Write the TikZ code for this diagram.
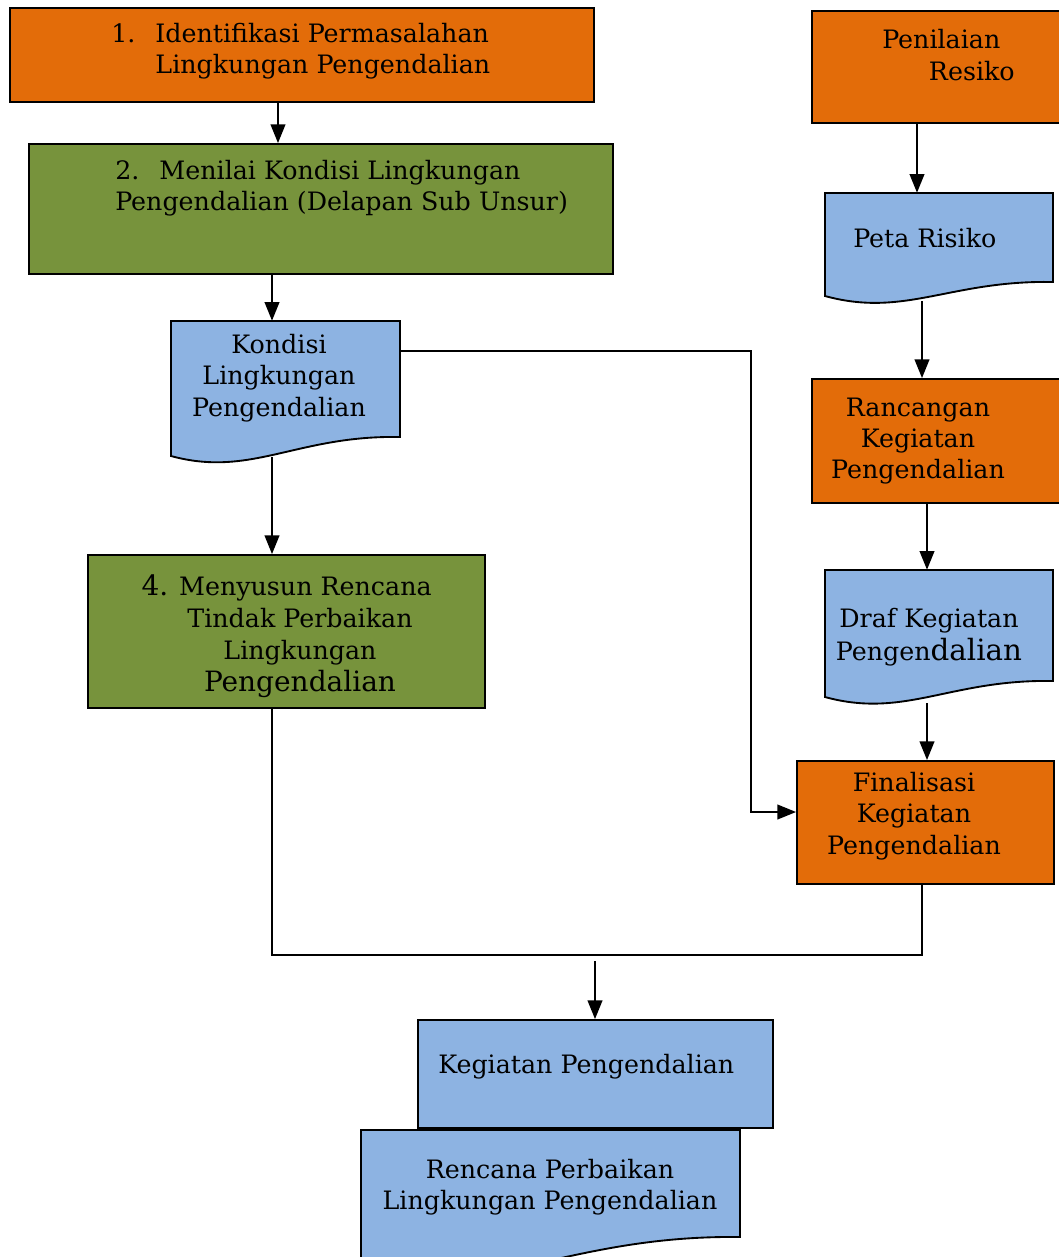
\documentclass[tikz,border=0pt]{standalone}
\usepackage{fontspec}
\setmainfont{DejaVu Serif}
\usetikzlibrary{arrows.meta,fit}

\definecolor{flowOrange}{HTML}{E36C09}
\definecolor{flowGreen}{HTML}{77933C}
\definecolor{flowBlue}{HTML}{8DB3E2}

\tikzset{
  box/.style={rectangle, draw=black, line width=1.4pt, inner sep=0pt},
  procO/.style={box, fill=flowOrange},
  procG/.style={box, fill=flowGreen},
  procB/.style={box, fill=flowBlue},
  docbox/.style={rectangle, inner sep=0pt},
  txt/.style={inner sep=0pt, align=center, font=\fontsize{19}{23.5}\selectfont},
  flow/.style={line width=1.4pt, -{Triangle[length=14pt,width=11pt]}},
  link/.style={line width=1.4pt},
}

% document symbol: left, top, right, right-bottom, left-bottom (wavy lower edge)
\newcommand\flowdoc[5]{%
  \filldraw[fill=flowBlue, draw=black, line width=1.4pt]
    (#1,#2) -- (#3,#2) -- (#3,#4)
    .. controls ({#3-0.45*(#3-#1)},{#4-2}) and ({#1+0.35*(#3-#1)},{#5+22}) .. (#1,#5) -- cycle;}

\begin{document}
\begin{tikzpicture}[x=0.75pt,y=-0.75pt]
\fill[white] (0,0) rectangle (1058,1257);
\useasboundingbox (0,0) rectangle (1058,1257);

% ---------- left column ----------
\node[procO, fit={(10,8)(594,102)}] (b1) {};
\node[procG, fit={(29,144)(613,274)}] (b2) {};
\flowdoc{171}{321}{400}{437}{456}
\node[docbox, fit={(171,321)(400,457)}] (d1) {};
\node[procG, fit={(88,555)(485,708)}] (b4) {};

% ---------- right column ----------
\node[procO, fit={(812,11)(1064,123)}] (pen) {};
\flowdoc{825}{193}{1053}{282}{296}
\node[docbox, fit={(825,193)(1053,301)}] (peta) {};
\node[procO, fit={(812,379)(1064,503)}] (ranc) {};
\flowdoc{825}{570}{1053}{681}{697}
\node[docbox, fit={(825,570)(1053,703)}] (draf) {};
\node[procO, fit={(797,761)(1054,884)}] (fin) {};

% ---------- outputs ----------
\node[procB, fit={(418,1020)(773,1128)}] (keg) {};
\flowdoc{361}{1130}{740}{1237}{1275}
\node[docbox, fit={(361,1130)(740,1257)}] (renc) {};

% ---------- connector guides ----------
\coordinate (xA) at (278,0);
\coordinate (xB) at (272,0);
\coordinate (xC) at (751,0);
\coordinate (xD) at (917,0);
\coordinate (xE) at (922,0);
\coordinate (xF) at (927,0);
\coordinate (xG) at (595,0);
\coordinate (yA) at (0,351);
\coordinate (yB) at (0,812);
\coordinate (yM) at (0,955);
\coordinate (mergeTop) at (595,961);

% ---------- connectors ----------
\draw[flow] (b1.south -| xA) -- (b2.north -| xA);
\draw[flow] (b2.south -| xB) -- (d1.north -| xB);
\draw[flow] (d1.south -| xB) -- (b4.north -| xB);
\draw[flow] (d1.east |- yA) -| (xC |- yB) -- (fin.west |- yB);
\draw[flow] (pen.south -| xD) -- (peta.north -| xD);
\draw[flow] (peta.south -| xE) -- (ranc.north -| xE);
\draw[flow] (ranc.south -| xF) -- (draf.north -| xF);
\draw[flow] (draf.south -| xF) -- (fin.north -| xF);
\draw[link] (b4.south -| xB) -- (xB |- yM) -| (fin.south -| xE);
\draw[flow] (mergeTop) -- (keg.north -| xG);

% ---------- labels ----------
\node[txt, align=left, anchor=west] (t1) at (111,51)
  {1.\hspace{15pt}Identifikasi Permasalahan\\\phantom{1.}\hspace{15pt}Lingkungan Pengendalian};
\node[txt, align=left, anchor=west] (t2) at (115,188)
  {2.\hspace{15pt}Menilai Kondisi Lingkungan\\Pengendalian (Delapan Sub Unsur)};
\node[txt] (t3) at (279,378) {Kondisi\\Lingkungan\\Pengendalian};
\node[txt, font=\fontsize{19}{24}\selectfont] (t4) at (300,636)
  {{\fontsize{21}{24}\selectfont 4.} Menyusun Rencana\hspace*{20pt}\\Tindak Perbaikan\\Lingkungan\\{\fontsize{21}{24}\selectfont Pengendalian}};
\node[txt, align=left, anchor=west] (t5) at (882,55) {Penilaian\\\hspace{35pt}Resiko};
\node[txt, anchor=west] (t6) at (853,238) {Peta Risiko};
\node[txt] (t7) at (918,441) {Rancangan\\Kegiatan\\Pengendalian};
\node[txt, font=\fontsize{19}{25}\selectfont] (t8) at (929,637)
  {Draf Kegiatan\\Pengen{\fontsize{22}{25}\selectfont dalian}};
\node[txt] (t9) at (914,816) {Finalisasi\\Kegiatan\\Pengendalian};
\node[txt, anchor=west] (t10) at (438,1067) {Kegiatan Pengendalian};
\node[txt] (t11) at (550,1187) {Rencana Perbaikan\\Lingkungan Pengendalian};
\end{tikzpicture}
\end{document}
